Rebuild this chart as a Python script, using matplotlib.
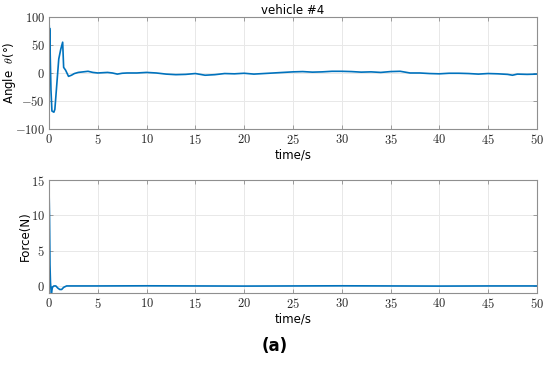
import numpy as np
import matplotlib
matplotlib.use('Agg')
import matplotlib.pyplot as plt
from matplotlib.ticker import FuncFormatter

# data (vehicle #4)
t_angle = [0, 0.02, 0.04, 0.06, 0.08, 0.1, 0.12, 0.2, 0.3, 0.5, 0.6, 0.8, 1.0, 1.2, 1.4,
           1.5, 1.7, 2.0, 2.3, 2.6, 3.0, 3.5, 4.0, 4.5, 5.0, 5.5, 6.0, 6.5, 7.0, 7.5, 8.0,
           9.0, 10.0, 11.0, 12.0, 13.0, 14.0, 15.0, 16.0, 17.0, 18.0, 19.0, 20.0, 21.0,
           22.0, 23.0, 24.0, 25.0, 26.0, 27.0, 28.0, 29.0, 30.0, 31.0, 32.0, 33.0, 34.0,
           35.0, 36.0, 37.0, 38.0, 39.0, 40.0, 41.0, 42.0, 43.0, 44.0, 45.0, 46.0, 47.0,
           47.5, 48.0, 49.0, 50.0]
angle = [35, 85, 40, 80, 45, 75, 35, -30, -68, -70, -65, -20, 25, 42, 55,
         10, 5, -6, -4, -1, 1, 2, 3, 1, 0, 0.5, 1, 0, -2, -0.5, 0,
         0, 1, 0, -2, -3, -2.5, -1, -4, -3, -1, -1.5, -0.5, -2,
         -1, 0, 1, 2, 2.5, 1.5, 2, 3, 3, 2.5, 1.5, 2, 1,
         2.5, 3, 0, 0, -1, -1.5, -0.5, -0.5, -1, -2, -1, -1.5, -2.5,
         -4, -2, -2.5, -2]

t_force = [0, 0.05, 0.1, 0.15, 0.2, 0.25, 0.35, 0.5, 0.7, 0.9, 1.1, 1.3, 1.5, 1.8,
           2.0, 5, 10, 15, 20, 25, 30, 35, 40, 45, 50]
force = [14, 10, 3, 0.5, -0.5, -1, -0.2, 0, 0, -0.3, -0.5, -0.5, -0.2, 0,
         0, 0, 0.02, 0, -0.02, 0, 0.02, 0, -0.02, 0, 0]

blue = '#0072BD'
edge = '#8f8f8f'

plt.rcParams['mathtext.fontset'] = 'cm'
fig = plt.figure(figsize=(5.5, 3.7), dpi=100)

def style(ax):
    ax.grid(True, color='#e8e8e8', linewidth=0.7)
    ax.set_axisbelow(True)
    for s in ax.spines.values():
        s.set_color(edge)
        s.set_linewidth(0.8)
    ax.tick_params(direction='in', length=3, width=0.6, color=edge, top=True, right=True,
                   labelsize=9, pad=3, labelcolor='#262626')
    ax.xaxis.set_major_formatter(FuncFormatter(lambda v, p: r'$%g$' % v))
    ax.yaxis.set_major_formatter(FuncFormatter(lambda v, p: r'$%g$' % v))
    ax.set_xlim(0, 50)
    ax.set_xticks(np.arange(0, 51, 5))

ax1 = fig.add_axes([0.0891, 0.6514, 0.887, 0.3027])
ax1.plot(t_angle, angle, color=blue, linewidth=1.2)
style(ax1)
ax1.set_ylim(-100, 100)
ax1.set_yticks([-100, -50, 0, 50, 100])
ax1.set_xlabel('time/s', fontsize=8.5, labelpad=1)
ax1.set_ylabel(r'Angle  $\theta$(°)', fontsize=8.5)
ax1.yaxis.set_label_coords(-0.064, 0.5)
ax1.set_title('vehicle #4', fontsize=8.5, pad=2)

ax2 = fig.add_axes([0.0891, 0.2081, 0.887, 0.3054])
ax2.plot(t_force, force, color=blue, linewidth=1.2)
style(ax2)
ax2.set_ylim(-1, 15)
ax2.set_yticks([0, 5, 10, 15])
ax2.set_xlabel('time/s', fontsize=8.5, labelpad=1)
ax2.set_ylabel('Force(N)', fontsize=8.5)
ax2.yaxis.set_label_coords(-0.035, 0.5)

fig.text(0.5, 0.065, '(a)', fontsize=12, fontweight='bold', ha='center', va='center')

fig.savefig('out.png', dpi=100)
